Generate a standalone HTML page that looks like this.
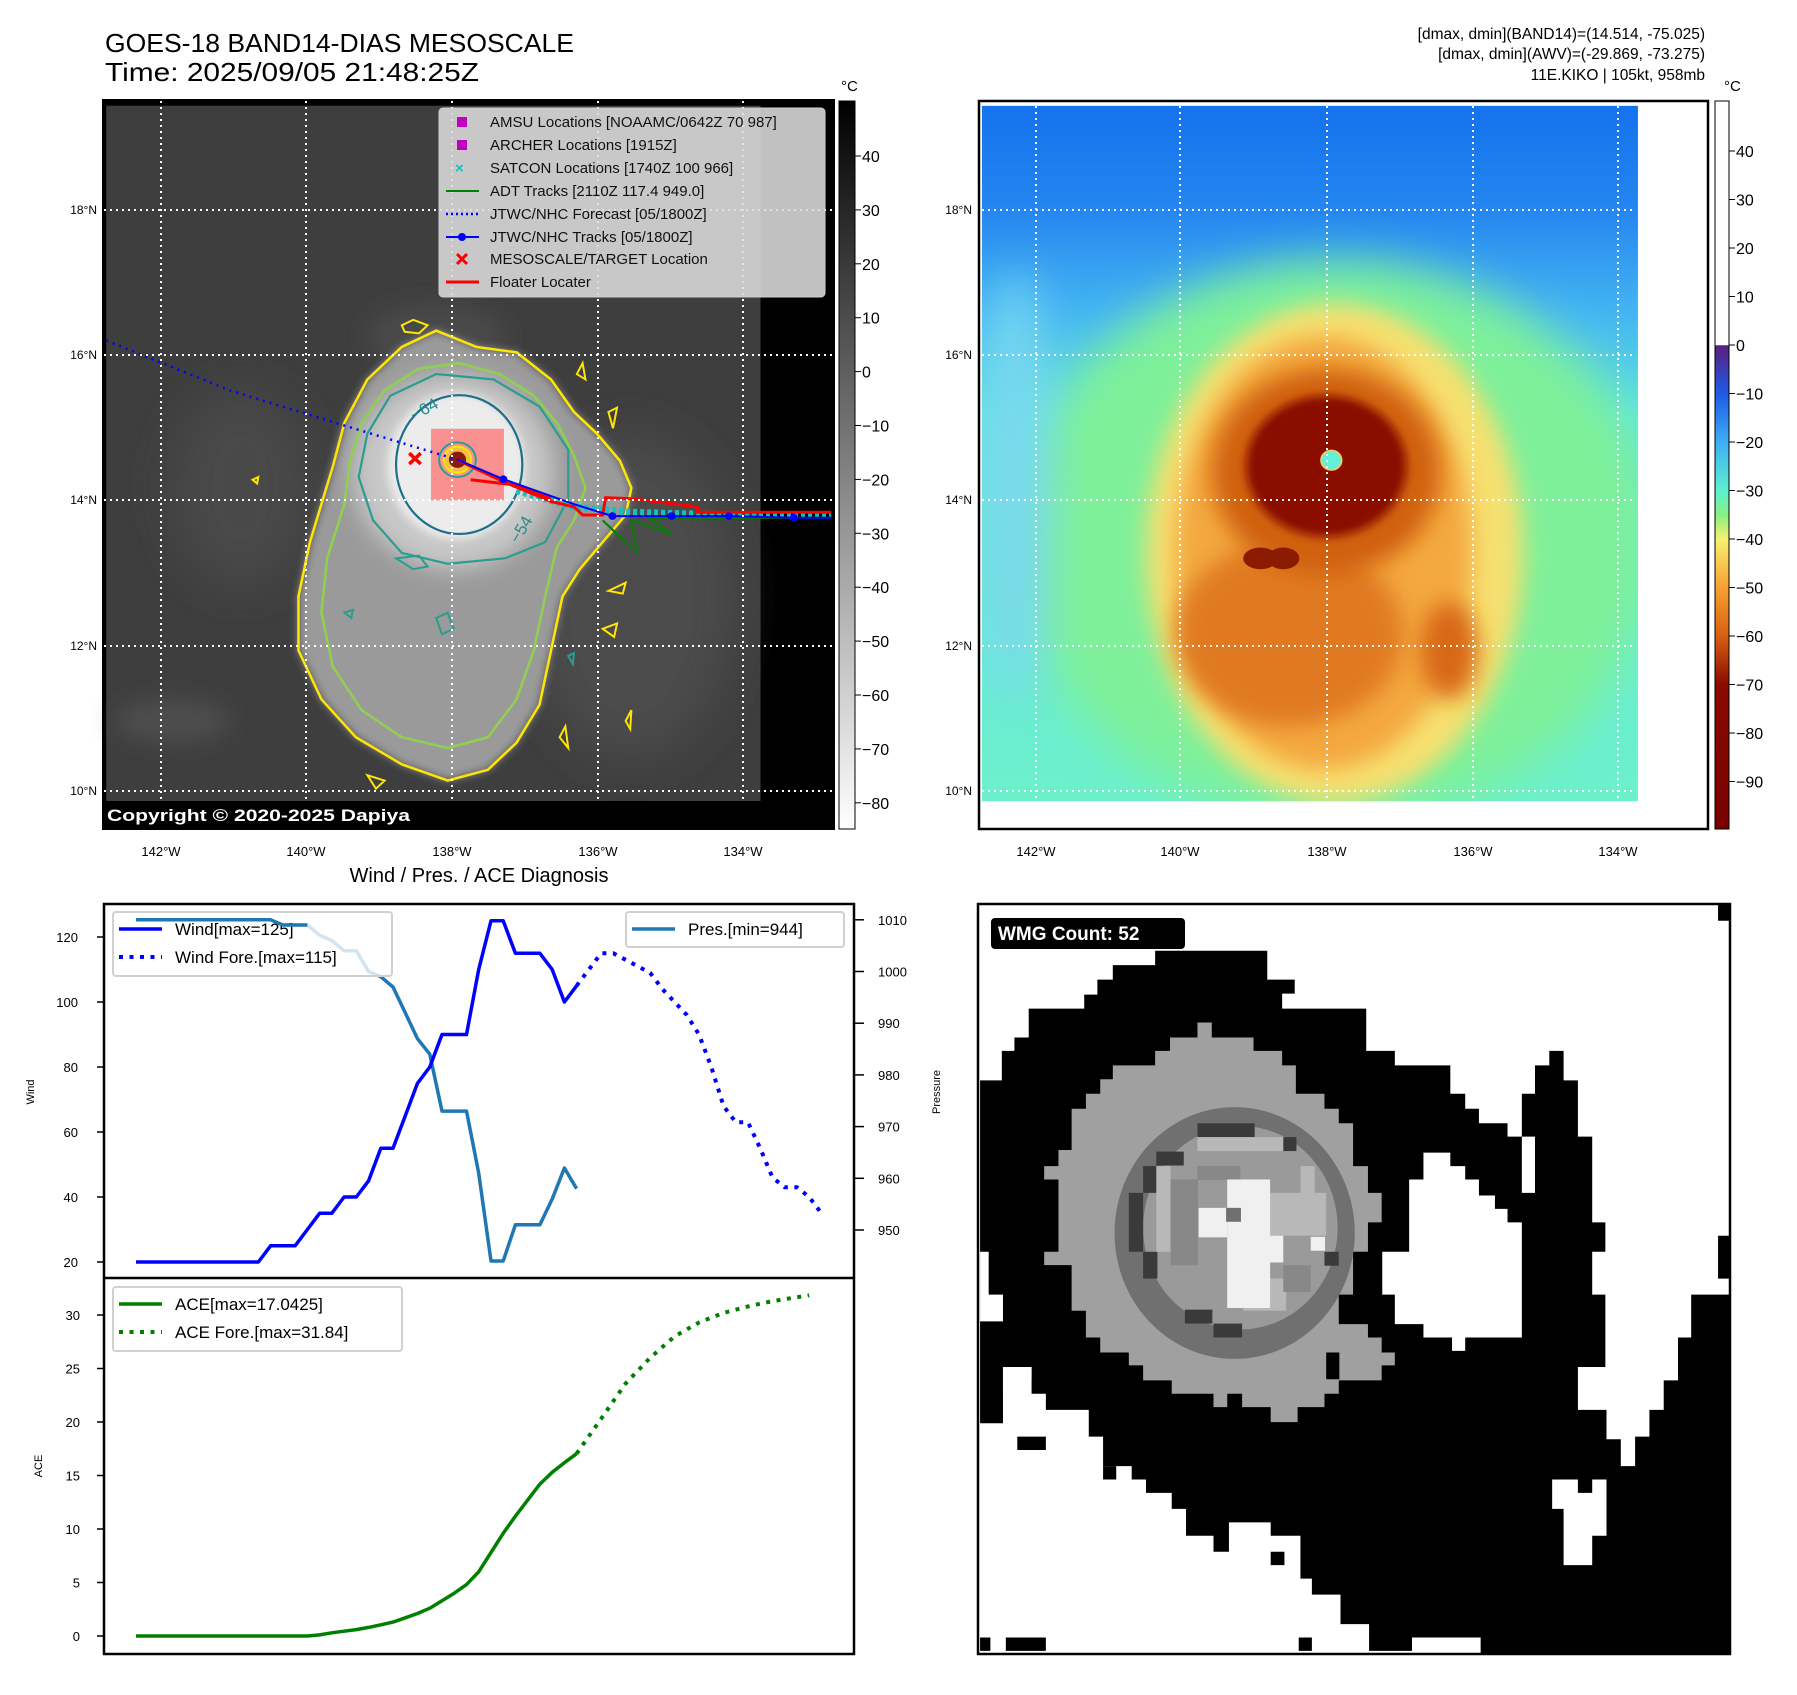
<!DOCTYPE html>
<html><head><meta charset="utf-8"><style>
html,body{margin:0;padding:0;background:#fff;}
body{width:1797px;height:1690px;overflow:hidden;position:relative;font-family:"Liberation Sans","DejaVu Sans",sans-serif;}
svg text{font-family:"Liberation Sans","DejaVu Sans",sans-serif;}
</style></head><body>
<svg id="root" width="1797" height="1690" viewBox="0 0 1797 1690" xmlns="http://www.w3.org/2000/svg">
<defs>
  <filter id="b8" x="-30%" y="-30%" width="160%" height="160%"><feGaussianBlur stdDeviation="8"/></filter>
  <filter id="b20" x="-50%" y="-50%" width="200%" height="200%"><feGaussianBlur stdDeviation="20"/></filter>
  <filter id="b40" x="-50%" y="-50%" width="200%" height="200%"><feGaussianBlur stdDeviation="40"/></filter>
  <linearGradient id="grayBar" x1="0" y1="0" x2="0" y2="1"><stop offset="0" stop-color="#000"/><stop offset="1" stop-color="#fff"/></linearGradient>
  <linearGradient id="awvBar" x1="0" y1="0" x2="0" y2="1">
    <stop offset="0" stop-color="#fff"/><stop offset="0.335" stop-color="#fff"/>
    <stop offset="0.336" stop-color="#5a1f7e"/><stop offset="0.402" stop-color="#1e5ae6"/>
    <stop offset="0.469" stop-color="#3eaef6"/><stop offset="0.535" stop-color="#5cf0d0"/>
    <stop offset="0.570" stop-color="#8cf080"/><stop offset="0.602" stop-color="#f8f070"/>
    <stop offset="0.669" stop-color="#f8a030"/><stop offset="0.735" stop-color="#d86010"/>
    <stop offset="0.802" stop-color="#8a0a00"/><stop offset="1" stop-color="#7a0000"/>
  </linearGradient>
  <linearGradient id="awvBase" x1="0" y1="0" x2="0" y2="1">
    <stop offset="0" stop-color="#1472ee"/><stop offset="0.15" stop-color="#2486ef"/>
    <stop offset="0.3" stop-color="#44b6f2"/><stop offset="0.45" stop-color="#60e6dc"/>
    <stop offset="1" stop-color="#6cf0cc"/>
  </linearGradient>
</defs>

<!-- ================= LEFT MAP ================= -->
<text x="105" y="52" font-size="26" textLength="469" lengthAdjust="spacingAndGlyphs">GOES-18 BAND14-DIAS MESOSCALE</text>
<text x="105" y="81" font-size="26" textLength="374" lengthAdjust="spacingAndGlyphs">Time: 2025/09/05 21:48:25Z</text>

<g>
<rect x="103" y="100" width="731" height="729" fill="#000"/>
<svg x="0" y="0" width="900" height="850" viewBox="0 0 1568 1568" preserveAspectRatio="none">
  <rect x="185" y="195" width="1140" height="1283" fill="#3e3e3e"/>
  <ellipse cx="420" cy="900" rx="120" ry="180" fill="#4a4a4a" filter="url(#b40)"/>
  <ellipse cx="300" cy="1330" rx="100" ry="40" fill="#4e4e4e" filter="url(#b20)"/>
  <ellipse cx="760" cy="620" rx="120" ry="60" fill="#4a4a4a" filter="url(#b20)"/>
  <ellipse cx="1100" cy="1100" rx="180" ry="300" fill="#4c4c4c" filter="url(#b40)"/>
  <path d="M600,780 L640,700 700,640 760,610 830,640 900,650 960,700 1000,760 1040,800 1080,850 1100,900 1090,950 1050,1000 1010,1050 980,1100 960,1200 940,1300 900,1370 850,1420 780,1440 700,1410 620,1360 560,1290 520,1200 520,1100 540,1000 560,930 580,860Z" fill="#9a9a9a" filter="url(#b8)"/>
  <ellipse cx="790" cy="870" rx="175" ry="180" fill="#c8c8c8" filter="url(#b20)"/>
  <ellipse cx="795" cy="860" rx="120" ry="135" fill="#ececec" filter="url(#b8)"/>
  <path d="M600,780 L640,700 700,640 760,610 830,640 900,650 960,700 1000,760 1040,800 1080,850 1100,900 1090,950 1050,1000 1010,1050 980,1100 960,1200 940,1300 900,1370 850,1420 780,1440 700,1410 620,1360 560,1290 520,1200 520,1100 540,1000 560,930 580,860Z" fill="none" stroke="#ffe600" stroke-width="2.5" vector-effect="non-scaling-stroke"/>
  <path d="M700,600 L720,590 745,600 730,615 705,612Z M1005,690 L1015,670 1020,700Z M1060,760 L1075,752 1068,790Z M1060,1090 L1090,1075 1085,1095Z M1050,1160 L1075,1150 1070,1175Z M975,1360 L985,1340 990,1380Z M640,1430 L670,1440 655,1455Z M1090,1330 L1100,1310 1098,1345Z M440,885 L450,880 448,892Z" fill="none" stroke="#ffe600" stroke-width="2" vector-effect="non-scaling-stroke"/>
  <path d="M630,780 L670,720 730,680 800,670 870,690 930,730 970,780 1000,840 1020,900 1000,960 970,1010 950,1100 930,1200 900,1290 850,1360 780,1380 700,1360 630,1310 580,1230 560,1130 570,1030 600,930 610,850Z" fill="none" stroke="#8fd14f" stroke-width="2.5" vector-effect="non-scaling-stroke"/>
  <path d="M640,800 L680,730 760,690 860,700 940,750 990,830 990,920 950,1000 880,1030 780,1040 700,1020 650,960 625,880Z" fill="none" stroke="#2a9d8f" stroke-width="2.2" vector-effect="non-scaling-stroke"/>
  <path d="M690,1030 L730,1025 745,1045 720,1050Z M760,1140 L780,1130 790,1160 770,1170Z M600,1130 L615,1125 612,1140Z M990,1210 L1000,1205 998,1225Z" fill="none" stroke="#2a9d8f" stroke-width="2" vector-effect="non-scaling-stroke"/>
  <ellipse cx="800" cy="857" rx="110" ry="128" fill="none" stroke="#1f6f8b" stroke-width="2.2" vector-effect="non-scaling-stroke"/>
  <text x="715" y="770" font-size="30" fill="#2a8a8a" transform="rotate(-30 730 760)">−64</text>
  <text x="890" y="1000" font-size="30" fill="#2a8a8a" transform="rotate(-60 900 990)">−54</text>
  <rect x="751" y="791" width="127" height="132" fill="#ff6b6b" fill-opacity="0.7"/>
  <circle cx="797" cy="848" r="32" fill="none" stroke="#2a9d8f" stroke-width="2" vector-effect="non-scaling-stroke"/>
  <circle cx="797" cy="848" r="24" fill="#f0c040" stroke="#ffe600" stroke-width="2" vector-effect="non-scaling-stroke"/>
  <circle cx="797" cy="848" r="15" fill="#8b1a10"/>
  <polyline points="185,628 400,720 600,785 797,848" fill="none" stroke="#0000ff" stroke-width="2.5" stroke-dasharray="2,5" vector-effect="non-scaling-stroke"/>
  <path d="M900,905 L1000,935 1100,945 1200,948 1300,950 1448,950" fill="none" stroke="#14c0c0" stroke-width="7" stroke-dasharray="4,3" vector-effect="non-scaling-stroke"/>
  <polyline points="1050,960 1090,1000 1110,1020 1100,960 1170,985 1130,955 1448,955" fill="none" stroke="#008000" stroke-width="2" vector-effect="non-scaling-stroke"/>
  <polyline points="800,850 880,890 960,925 1000,935 1015,950 1050,950 1055,918 1100,920 1215,935 1215,945 1330,945 1448,945" fill="none" stroke="#ff0000" stroke-width="3" vector-effect="non-scaling-stroke"/>
  <polyline points="820,885 900,895 960,920" fill="none" stroke="#ff0000" stroke-width="3" vector-effect="non-scaling-stroke"/>
  <polyline points="797,848 877,884 1000,930 1067,952 1170,952 1270,952 1383,955 1448,955" fill="none" stroke="#0000ff" stroke-width="2" vector-effect="non-scaling-stroke"/>
  <g fill="#0000ff"><circle cx="877" cy="884" r="7"/><circle cx="1067" cy="952" r="7"/><circle cx="1170" cy="952" r="7"/><circle cx="1270" cy="952" r="7"/><circle cx="1383" cy="955" r="7"/></g>
  <path d="M713,836 L733,856 M733,836 L713,856" stroke="#ff0000" stroke-width="3.5" vector-effect="non-scaling-stroke"/>
</svg>
</g>
<g stroke="#fff" stroke-width="2" stroke-dasharray="2,4">
  <line x1="161" y1="101" x2="161" y2="801"/><line x1="306" y1="101" x2="306" y2="801"/><line x1="452" y1="101" x2="452" y2="801"/><line x1="598" y1="101" x2="598" y2="801"/><line x1="743" y1="101" x2="743" y2="801"/>
  <line x1="104" y1="210" x2="833" y2="210"/><line x1="104" y1="355" x2="833" y2="355"/><line x1="104" y1="500" x2="833" y2="500"/><line x1="104" y1="646" x2="833" y2="646"/><line x1="104" y1="791" x2="833" y2="791"/>
</g>
<rect x="103" y="801" width="731" height="28" fill="#000"/>
<text x="107" y="821" font-size="17" font-weight="bold" fill="#fff" textLength="303" lengthAdjust="spacingAndGlyphs">Copyright © 2020-2025 Dapiya</text>
<rect x="103" y="100" width="731" height="729" fill="none" stroke="#000" stroke-width="2"/>

<g>
  <rect x="439" y="108" width="386" height="189" rx="4" fill="#dcdcdc" fill-opacity="0.88" stroke="#cfcfcf"/>
  <g font-size="15" fill="#111">
    <rect x="457" y="117" width="10" height="10" fill="#bf00bf"/><text x="490" y="127">AMSU Locations [NOAAMC/0642Z 70 987]</text>
    <rect x="457" y="140" width="10" height="10" fill="#bf00bf"/><text x="490" y="150">ARCHER Locations [1915Z]</text>
    <text x="455" y="173" fill="#14c0c0" font-weight="bold">×</text><text x="490" y="173">SATCON Locations [1740Z 100 966]</text>
    <line x1="446" y1="191" x2="479" y2="191" stroke="#008000" stroke-width="2"/><text x="490" y="196">ADT Tracks [2110Z 117.4 949.0]</text>
    <line x1="446" y1="214" x2="479" y2="214" stroke="#0000ff" stroke-width="2.5" stroke-dasharray="2,3"/><text x="490" y="219">JTWC/NHC Forecast [05/1800Z]</text>
    <line x1="446" y1="237" x2="479" y2="237" stroke="#0000ff" stroke-width="2"/><circle cx="462" cy="237" r="4" fill="#0000ff"/><text x="490" y="242">JTWC/NHC Tracks [05/1800Z]</text>
    <path d="M457,254 L467,264 M467,254 L457,264" stroke="#ff0000" stroke-width="3"/><text x="490" y="264">MESOSCALE/TARGET Location</text>
    <line x1="446" y1="282" x2="479" y2="282" stroke="#ff0000" stroke-width="3"/><text x="490" y="287">Floater Locater</text>
  </g>
</g>

<g font-size="12" text-anchor="end">
  <text x="97" y="214">18°N</text><text x="97" y="359">16°N</text><text x="97" y="504">14°N</text><text x="97" y="650">12°N</text><text x="97" y="795">10°N</text>
</g>
<g font-size="13" text-anchor="middle">
  <text x="161" y="856">142°W</text><text x="306" y="856">140°W</text><text x="452" y="856">138°W</text><text x="598" y="856">136°W</text><text x="743" y="856">134°W</text>
</g>
<g>
  <rect x="839" y="101" width="16" height="728" fill="url(#grayBar)" stroke="#000" stroke-width="1"/>
  <text x="841" y="91" font-size="15">°C</text>
  <g id="irTicks" font-size="16"></g>
</g>

<!-- ================= RIGHT MAP ================= -->
<g font-size="15.5" text-anchor="end">
  <text x="1705" y="39">[dmax, dmin](BAND14)=(14.514, -75.025)</text>
  <text x="1705" y="59">[dmax, dmin](AWV)=(-29.869, -73.275)</text>
  <text x="1705" y="80">11E.KIKO | 105kt, 958mb</text>
</g>
<g>
<svg x="900" y="0" width="897" height="850" viewBox="0 0 1568 1568" preserveAspectRatio="none">
  <clipPath id="awvClip"><rect x="143" y="195" width="1147" height="1283"/></clipPath>
  <g clip-path="url(#awvClip)">
    <rect x="143" y="195" width="1147" height="1283" fill="url(#awvBase)"/>
    <ellipse cx="760" cy="1000" rx="560" ry="520" fill="#7ef09a" filter="url(#b40)"/>
    <ellipse cx="200" cy="900" rx="60" ry="400" fill="#7ad8f0" filter="url(#b40)"/>
    <ellipse cx="760" cy="1020" rx="330" ry="460" fill="#f6e070" filter="url(#b20)"/>
    <ellipse cx="740" cy="1020" rx="260" ry="400" fill="#f4a840" filter="url(#b20)"/>
    <ellipse cx="680" cy="1170" rx="200" ry="170" fill="#e07a20" filter="url(#b20)"/>
    <ellipse cx="960" cy="1200" rx="50" ry="90" fill="#d86818" filter="url(#b20)"/>
    <ellipse cx="745" cy="870" rx="200" ry="190" fill="#d06010" filter="url(#b20)"/>
    <ellipse cx="745" cy="860" rx="140" ry="130" fill="#8a0c00" filter="url(#b8)"/>
    <ellipse cx="630" cy="1030" rx="30" ry="20" fill="#8a1a00"/>
    <ellipse cx="670" cy="1030" rx="28" ry="20" fill="#8a1a00"/>
    <circle cx="754" cy="849" r="18" fill="#64f0d8" stroke="#f0d060" stroke-width="3"/>
  </g>
</svg>
</g>
<g stroke="#fff" stroke-width="2" stroke-dasharray="2,4">
  <line x1="1036" y1="106" x2="1036" y2="801"/><line x1="1180" y1="106" x2="1180" y2="801"/><line x1="1327" y1="106" x2="1327" y2="801"/><line x1="1473" y1="106" x2="1473" y2="801"/><line x1="1618" y1="106" x2="1618" y2="801"/>
  <line x1="982" y1="210" x2="1636" y2="210"/><line x1="982" y1="355" x2="1636" y2="355"/><line x1="982" y1="500" x2="1636" y2="500"/><line x1="982" y1="646" x2="1636" y2="646"/><line x1="982" y1="791" x2="1636" y2="791"/>
</g>
<rect x="979" y="101" width="729" height="728" fill="none" stroke="#000" stroke-width="2.5"/>
<g font-size="12" text-anchor="end">
  <text x="972" y="214">18°N</text><text x="972" y="359">16°N</text><text x="972" y="504">14°N</text><text x="972" y="650">12°N</text><text x="972" y="795">10°N</text>
</g>
<g font-size="13" text-anchor="middle">
  <text x="1036" y="856">142°W</text><text x="1180" y="856">140°W</text><text x="1327" y="856">138°W</text><text x="1473" y="856">136°W</text><text x="1618" y="856">134°W</text>
</g>
<g>
  <rect x="1715" y="101" width="14" height="728" fill="url(#awvBar)" stroke="#000" stroke-width="1"/>
  <text x="1724" y="91" font-size="15">°C</text>
  <g id="awvTicks" font-size="16"></g>
</g>

<!-- ================= BOTTOM LEFT CHART ================= -->
<text x="479" y="882" font-size="20" text-anchor="middle">Wind / Pres. / ACE Diagnosis</text>
<g id="chart"></g>
<text x="0" y="0" font-size="11" text-anchor="middle" transform="translate(34,1092) rotate(-90)">Wind</text>
<text x="0" y="0" font-size="11" text-anchor="middle" transform="translate(42,1466) rotate(-90)">ACE</text>
<text x="0" y="0" font-size="11" text-anchor="middle" transform="translate(940,1092) rotate(-90)">Pressure</text>

<!-- ================= WMG ================= -->
<g>
<rect x="978" y="904" width="752" height="750" fill="#fff"/>
<svg x="900" y="850" width="897" height="840" viewBox="0 0 1568 1568" preserveAspectRatio="none">
  <path fill="#000" d="M140,430 L178,430 178,375 200,375 200,350 225,350 225,296 322,296 322,270 345,270 345,242 372,242 372,215 446,215 446,188 642,188 642,242 690,242 690,268 668,268 668,296 815,296 815,375 865,375 865,402 938,402 938,402 962,402 962,455 988,455 988,483 1012,483 1012,510 1062,510 1062,535 1087,535 1087,455 1110,455 1110,402 1135,402 1135,375 1160,375 1160,430 1185,430 1185,535 1210,535 1210,695 1233,695 1233,750 1210,750 1210,830 1233,830 1233,965 1185,965 1185,1045 1235,1045 1235,1100 1260,1100 1260,1150 1285,1150 1285,1095 1310,1095 1310,1045 1335,1045 1335,990 1360,990 1360,910 1383,910 1383,830 1450,830 1450,1500 1015,1500 1015,1470 895,1470 895,1495 820,1495 820,1445 770,1445 770,1390 720,1390 720,1360 700,1360 700,1280 648,1280 648,1255 575,1255 575,1310 548,1310 548,1280 500,1280 500,1230 475,1230 475,1200 430,1200 430,1175 405,1175 405,1150 355,1150 355,1095 330,1095 330,1045 255,1045 255,1015 230,1015 230,965 180,965 180,1070 140,1070Z"/>
  <path fill="#fff" d="M915,565 L962,565 962,590 988,590 988,615 1012,615 1012,645 1040,645 1040,670 1062,670 1062,695 1087,695 1087,910 988,910 988,935 965,935 965,910 915,910 915,885 865,885 865,830 843,830 843,750 890,750 890,615 915,615Z"/>
  <path fill="#fff" d="M1140,1175 L1185,1175 1185,1200 1210,1200 1210,1175 1235,1175 1235,1280 1210,1280 1210,1335 1160,1335 1160,1230 1140,1230Z"/>
  <path fill="#fff" d="M140,750 L155,750 155,830 180,830 180,880 140,880Z M180,965 L230,965 230,990 205,990 205,1015 180,1015Z M1087,535 L1110,535 1110,640 1087,640Z"/>
  <path fill="#000" d="M1430,100 L1450,100 1450,132 1430,132Z M205,1095 L255,1095 255,1120 205,1120Z M355,1150 L378,1150 378,1175 355,1175Z M1430,720 L1450,720 1450,800 1430,800Z M648,1310 L672,1310 672,1335 648,1335Z M185,1470 L255,1470 255,1495 185,1495Z M697,1470 L720,1470 720,1495 697,1495Z M140,1470 L158,1470 158,1495 140,1495Z M1062,938 L1087,938 1087,962 1062,962Z"/>
  <path fill="#a0a0a0" d="M520,322 L545,322 545,350 570,350 570,350 618,350 618,375 668,375 668,402 692,402 692,455 742,455 742,483 767,483 767,510 792,510 792,590 818,590 818,640 842,640 842,695 818,695 818,750 792,750 792,830 767,830 767,885 818,885 818,910 842,910 842,938 865,938 865,962 842,962 842,990 767,990 767,1015 742,1015 742,1040 695,1040 695,1068 648,1068 648,1040 598,1040 598,1015 572,1015 572,1040 548,1040 548,1015 475,1015 475,990 425,990 425,962 400,962 400,938 350,938 350,910 325,910 325,860 300,860 300,775 252,775 252,750 277,750 277,615 252,615 252,590 277,590 277,560 300,560 300,483 325,483 325,455 350,455 350,428 372,428 372,402 446,402 446,375 472,375 472,350 520,350Z"/>
  <path fill="#000" d="M745,938 L768,938 768,988 745,988Z"/>
  <ellipse cx="585" cy="715" rx="210" ry="235" fill="#707070"/>
  <ellipse cx="595" cy="705" rx="170" ry="190" fill="#9a9a9a"/>
  <g fill="#3a3a3a"><rect x="520" y="510" width="100" height="26"/><rect x="448" y="563" width="48" height="26"/><rect x="400" y="640" width="25" height="110"/><rect x="425" y="590" width="25" height="50"/><rect x="425" y="750" width="25" height="50"/><rect x="498" y="858" width="48" height="26"/><rect x="548" y="884" width="50" height="26"/><rect x="668" y="536" width="25" height="26"/><rect x="742" y="750" width="25" height="26"/></g>
  <g fill="#b8b8b8"><rect x="448" y="590" width="25" height="160"/><rect x="520" y="536" width="150" height="26"/><rect x="645" y="640" width="100" height="80"/><rect x="600" y="800" width="75" height="60"/><rect x="700" y="590" width="25" height="50"/></g>
  <g fill="#888"><rect x="473" y="615" width="48" height="160"/><rect x="520" y="590" width="75" height="26"/><rect x="670" y="775" width="48" height="50"/></g>
  <g fill="#f0f0f0"><rect x="572" y="615" width="75" height="240"/><rect x="522" y="668" width="50" height="55"/><rect x="645" y="720" width="25" height="50"/><rect x="718" y="722" width="25" height="26"/></g>
  <rect x="570" y="668" width="26" height="26" fill="#707070"/>
</svg>
<rect x="978" y="904" width="752" height="750" fill="none" stroke="#000" stroke-width="2.5"/>
<rect x="991" y="918" width="194" height="31" rx="4" fill="#000"/>
<text x="998" y="940" font-size="19" font-weight="bold" fill="#fff">WMG Count: 52</text>
</g>

<script>
// ===== chart data =====
const obsIdx = [0,1,2,3,4,5,6,7,8,9,10,11,12,13,14,15,16,17,18,19,20,21,22,23,24,25,26,27,28,29,30,31,32,33,34,35,36];
const windObs = [20,20,20,20,20,20,20,20,20,20,20,25,25,25,30,35,35,40,40,45,55,55,65,75,80,90,90,90,110,125,125,115,115,115,110,100,105];
const presObs = [1010,1010,1010,1010,1010,1010,1010,1010,1010,1010,1010,1010,1009,1009,1009,1007,1006,1004,1004,1000,999,997,992,987,984,973,973,973,961,944,944,951,951,951,956,962,958];
const aceObs = [0,0,0,0,0,0,0,0,0,0,0,0,0,0,0,0.1,0.3,0.45,0.6,0.8,1.05,1.3,1.7,2.1,2.6,3.3,4.0,4.8,6.0,7.8,9.6,11.2,12.7,14.2,15.3,16.2,17.04];
const windForeIdx = [36,38,39,40,42,43,44,45,46,47,48,49,50,51,52,53,54,55,56];
const windFore = [105,115,115,113,109,104,100,96,90,80,68,63,63,55,46,43,43,40,35];
const aceForeIdx = [36,38,40,42,44,46,48,50,52,55];
const aceFore = [17.04,20.3,23.6,26.0,28.0,29.3,30.2,30.8,31.3,31.84];
const windTicks = [20,40,60,80,100,120];
const presTicks = [950,960,970,980,990,1000,1010];
const aceTicks = [0,5,10,15,20,25,30];
const irTicks = [40,30,20,10,0,-10,-20,-30,-40,-50,-60,-70,-80];
const awvTicks = [40,30,20,10,0,-10,-20,-30,-40,-50,-60,-70,-80,-90];

const NS = 'http://www.w3.org/2000/svg';
function mk(tag, attrs, parent){const e=document.createElementNS(NS,tag);for(const k in attrs)e.setAttribute(k,attrs[k]);parent.appendChild(e);return e;}
const xS = i => 136 + i*12.24;
const yWind = v => 1262 - (v-20)*3.25;
const yPres = p => 1230 - (p-950)*5.17;
const yAce = a => 1636 - a*10.7;
const chart = document.getElementById('chart');

function line(idx, vals, yf, color, w, dash, name){
  const pts = idx.map((i,k)=>xS(i).toFixed(1)+','+yf(vals[k]).toFixed(1)).join(' ');
  const p = mk('polyline',{points:pts,fill:'none',stroke:color,'stroke-width':w,'stroke-linejoin':'round'},chart);
  if(dash) p.setAttribute('stroke-dasharray',dash);
  
  
}
mk('rect',{x:104,y:904,width:750,height:750,fill:'none',stroke:'#000','stroke-width':2.5},chart);
mk('line',{x1:104,y1:1278,x2:854,y2:1278,stroke:'#000','stroke-width':2.5},chart);
windTicks.forEach(v=>{const y=yWind(v);mk('line',{x1:97,y1:y,x2:104,y2:y,stroke:'#000','stroke-width':1.5},chart);const t=mk('text',{x:78,y:y+5,'font-size':13,'text-anchor':'end'},chart);t.textContent=v;});
presTicks.forEach(v=>{const y=yPres(v);mk('line',{x1:854,y1:y,x2:864,y2:y,stroke:'#000','stroke-width':1.5},chart);const t=mk('text',{x:878,y:y+5,'font-size':13},chart);t.textContent=v;});
aceTicks.forEach(v=>{const y=yAce(v);mk('line',{x1:97,y1:y,x2:104,y2:y,stroke:'#000','stroke-width':1.5},chart);const t=mk('text',{x:80,y:y+5,'font-size':13,'text-anchor':'end'},chart);t.textContent=v;});
line(obsIdx, presObs, yPres, '#1f77b4', 3.5, null, 'pressure-line');
line(obsIdx, windObs, yWind, '#0000ff', 3.5, null, 'wind-line');
line(windForeIdx, windFore, yWind, '#0000ff', 4, '4,6.5', 'wind-forecast-line');
line(obsIdx, aceObs, yAce, '#008000', 3.5, null, 'ace-line');
line(aceForeIdx, aceFore, yAce, '#008000', 4, '4,6.5', 'ace-forecast-line');
function legend(x,y,w,h,rows,name){
  const g=mk('g',{},chart);
  
  
  mk('rect',{x:x,y:y,width:w,height:h,rx:3,fill:'#fff','fill-opacity':0.8,stroke:'#d0d0d0','stroke-width':2},g);
  rows.forEach((r,k)=>{const cy=y+17+k*28;
    const l=mk('line',{x1:x+6,y1:cy,x2:x+49,y2:cy,stroke:r[1],'stroke-width':r[2]?4:3.5},g);
    if(r[2]) l.setAttribute('stroke-dasharray','4,6.5');
    const t=mk('text',{x:x+62,y:cy+6,'font-size':17},g);t.textContent=r[0];});
}
legend(113,912,279,64,[['Wind[max=125]','#0000ff',false],['Wind Fore.[max=115]','#0000ff',true]],'wind-legend');
legend(626,912,218,35,[['Pres.[min=944]','#1f77b4',false]],'pressure-legend');
legend(113,1287,289,64,[['ACE[max=17.0425]','#008000',false],['ACE Fore.[max=31.84]','#008000',true]],'ace-legend');
line(obsIdx.slice(0,15), presObs.slice(0,15), yPres, '#1f77b4', 3.5, null, 'pressure-line-top');

const irG=document.getElementById('irTicks');
irTicks.forEach(v=>{const y=156+(40-v)*5.39;mk('line',{x1:855,y1:y,x2:861,y2:y,stroke:'#000'},irG);const t=mk('text',{x:862,y:y+6},irG);t.textContent=v<0?'\u2212'+(-v):v;});
const awG=document.getElementById('awvTicks');
awvTicks.forEach(v=>{const y=151+(40-v)*4.85;mk('line',{x1:1729,y1:y,x2:1735,y2:y,stroke:'#000'},awG);const t=mk('text',{x:1736,y:y+6},awG);t.textContent=v<0?'\u2212'+(-v):v;});
</script>
</svg>
</body></html>
